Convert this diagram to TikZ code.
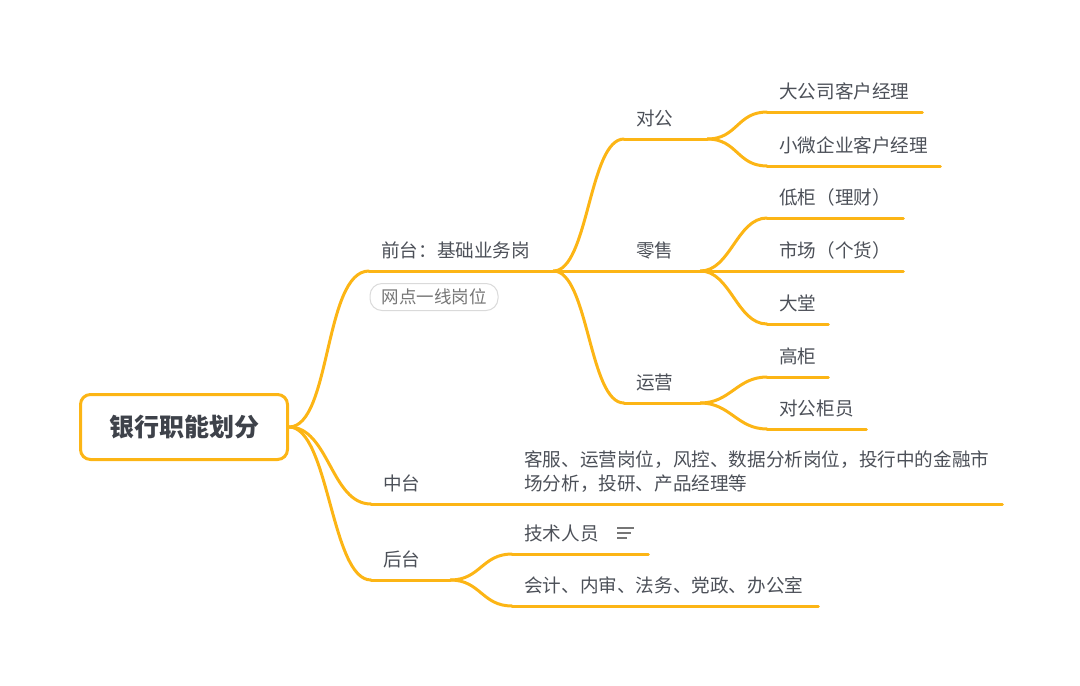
\documentclass[tikz,border=0pt]{standalone}
\usepackage{fontspec}
\setmainfont{Noto Sans CJK SC}

\definecolor{branchorange}{RGB}{252,181,21}
\definecolor{textgray}{RGB}{76,80,88}
\definecolor{rootgray}{RGB}{62,66,74}
\definecolor{tagline}{RGB}{218,218,218}
\definecolor{tagtext}{RGB}{118,118,118}

\tikzset{
  branch/.style={draw=branchorange, line width=3pt, line cap=round},
  topic/.style={anchor=south west, inner xsep=12pt, minimum height=41pt,
    align=left, text=textgray, font=\fontsize{18.6}{24}\selectfont},
}

\begin{document}
\begin{tikzpicture}[x=1pt,y=-1pt]
\useasboundingbox (0,0) rectangle (1080,686);

\node[draw=branchorange, line width=3pt, rounded corners=10pt, minimum width=207pt,
  minimum height=65pt, text=rootgray, font=\fontsize{25}{30}\selectfont\bfseries] (root) at (184,427) {银行职能划分};

% front office
\node[topic, text width=160pt] (front) at (369,271) {前台：基础业务岗};
\node[draw=tagline, line width=1pt, rounded corners=12pt, minimum width=128pt, minimum height=27pt,
  text=tagtext, font=\fontsize{17.5}{20}\selectfont] (tag) at (434,297) {网点一线岗位};

\node[topic, text width=59pt] (dg) at (624,139) {对公};
\node[topic, text width=52pt] (ls) at (624,271) {零售};
\node[topic, text width=52pt] (yy) at (624,403) {运营};

\node[topic, text width=131pt] (dgs) at (767,112) {大公司客户经理};
\node[topic, text width=149pt] (xw) at (767,166) {小微企业客户经理};
\node[topic, text width=112pt] (dg1) at (767,218) {低柜（理财）};
\node[topic, text width=112pt] (sc) at (767,271) {市场（个货）};
\node[topic, text width=37pt] (dt) at (767,324) {大堂};
\node[topic, text width=37pt] (gg) at (767,377) {高柜};
\node[topic, text width=75pt] (dggy) at (767,429) {对公柜员};

% middle office
\node[topic, text width=117pt] (zt) at (371,504) {中台};
\node[topic, text width=466pt, inner ysep=11pt] (kf) at (512,504) {客服、运营岗位，风控、数据分析岗位，投行中的金融市\\场分析，投研、产品经理等};

% back office
\node[topic, text width=55pt] (ht) at (371,580) {后台};
\node[topic, text width=112pt] (js) at (512,554) {技术人员};
\node[topic, text width=282pt] (kj) at (512,606) {会计、内审、法务、党政、办公室};

\coordinate (note) at (617,528);
\foreach \dy/\len in {0/17,5/14,10/10}
  \draw[tagtext, line width=1.3pt] (note) ++(0,\dy) -- ++(\len,0);

% underlines
\foreach \n in {front,dg,ls,yy,dgs,xw,dg1,sc,dt,gg,dggy,zt,kf,ht,js,kj}
  \path[branch] (\n.south west) -- (\n.south east);

% connectors
\path[branch] (root.east) .. controls +(42,0) and +(-45,0) .. (front.south west);
\path[branch] (root.east) .. controls +(40,0) and +(-40,0) .. (zt.south west);
\path[branch] (root.east) .. controls +(40,0) and +(-40,0) .. (ht.south west);

\path[branch] (front.south east) .. controls +(35,0) and +(-35,0) .. (dg.south west);
\path[branch] (front.south east) -- (ls.south west);
\path[branch] (front.south east) .. controls +(35,0) and +(-35,0) .. (yy.south west);

\path[branch] (dg.south east) .. controls +(30,0) and +(-30,0) .. (dgs.south west);
\path[branch] (dg.south east) .. controls +(30,0) and +(-30,0) .. (xw.south west);
\path[branch] (ls.south east) .. controls +(30,0) and +(-30,0) .. (dg1.south west);
\path[branch] (ls.south east) -- (sc.south west);
\path[branch] (ls.south east) .. controls +(30,0) and +(-30,0) .. (dt.south west);
\path[branch] (yy.south east) .. controls +(30,0) and +(-30,0) .. (gg.south west);
\path[branch] (yy.south east) .. controls +(30,0) and +(-30,0) .. (dggy.south west);

\path[branch] (zt.south east) -- (kf.south west);

\path[branch] (ht.south east) .. controls +(30,0) and +(-30,0) .. (js.south west);
\path[branch] (ht.south east) .. controls +(30,0) and +(-30,0) .. (kj.south west);
\end{tikzpicture}
\end{document}
